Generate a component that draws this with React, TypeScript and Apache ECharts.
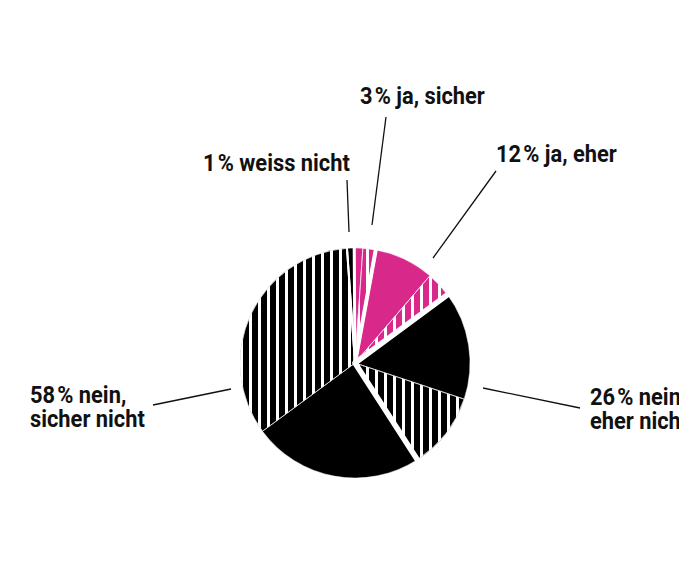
import React, { useEffect, useRef } from "react";
import * as echarts from "echarts";

// ---- data ----
const categories = ["weiss nicht", "ja, sicher", "ja, eher", "nein, eher nicht", "nein, sicher nicht"];
const labelNames = ["weiss nicht", "ja, sicher", "ja, eher", "nein,\neher nicht", "nein,\nsicher nicht"];
const totals = [1, 3, 12, 26, 58];
const solidShare = [1, 1.2, 8.4, 15.2, 24];
const stripedShare = [0, 1.8, 3.6, 10.8, 34];

// ---- styles / layout ----
const groupColors = ["#000000", "#d8288a", "#d8288a", "#000000", "#000000"];
const gapWidths = [2, 3, 4, 5.5, 2];
const labelPos: [number, number][] = [
  [203, 151],
  [360, 84],
  [496, 142],
  [590, 385],
  [30, 383],
];
const leaderLines: [number, number, number, number][] = [
  [349, 232, 347, 180],
  [372, 225, 386, 117],
  [433, 258, 496, 171],
  [483, 388, 580, 408],
  [231, 389, 153, 405],
];
const textScaleX = 0.91;

const stripeDecal = {
  symbol: "rect",
  symbolSize: 1,
  color: "#ffffff",
  backgroundColor: "rgba(0,0,0,0)",
  dashArrayX: [1, 0],
  dashArrayY: [2.6, 5.6],
  rotation: Math.PI / 2,
};

export default function App() {
  const ref = useRef<HTMLDivElement>(null);
  useEffect(() => {
    if (!ref.current) return;
    const chart = echarts.init(ref.current, undefined, { renderer: "svg" });

    const baseData: any[] = [];
    categories.forEach((c, i) => {
      baseData.push({
        name: c + " A",
        value: solidShare[i],
        itemStyle: { color: groupColors[i] },
      });
      if (stripedShare[i] > 0) {
        baseData.push({
          name: c + " B",
          value: stripedShare[i],
          itemStyle: { color: groupColors[i], decal: stripeDecal },
        });
      }
    });

    const overlayData = categories.map((c, i) => ({
      name: c,
      value: totals[i],
      itemStyle: { borderWidth: gapWidths[i] },
    }));

    const graphics: any[] = [];
    categories.forEach((c, i) => {
      graphics.push({
        type: "text",
        x: labelPos[i][0],
        y: labelPos[i][1],
        scaleX: textScaleX,
        silent: true,
        style: {
          x: 0,
          y: 0,
          text: `${totals[i]}\u200A% ${labelNames[i]}`,
          fontFamily: "Roboto, sans-serif",
          fontWeight: "bold",
          fontSize: 24,
          lineHeight: 24,
          fill: "#111111",
          verticalAlign: "top",
          align: "left",
        },
      });
      const l = leaderLines[i];
      graphics.push({
        type: "line",
        silent: true,
        shape: { x1: l[0], y1: l[1], x2: l[2], y2: l[3] },
        style: { stroke: "#111111", lineWidth: 1.3 },
      });
    });

    chart.setOption({
      animation: false,
      backgroundColor: "#ffffff",
      series: [
        {
          type: "pie",
          center: [355, 363],
          radius: 115,
          startAngle: 94,
          clockwise: true,
          silent: true,
          avoidLabelOverlap: false,
          label: { show: false },
          labelLine: { show: false },
          itemStyle: { borderColor: "rgba(255,255,255,0.6)", borderWidth: 0.8 },
          data: baseData,
        },
        {
          type: "pie",
          center: [355, 363],
          radius: 125,
          startAngle: 94,
          clockwise: true,
          silent: true,
          avoidLabelOverlap: false,
          label: { show: false },
          labelLine: { show: false },
          itemStyle: { color: "rgba(0,0,0,0)", borderColor: "#ffffff" },
          data: overlayData,
        },
      ],
      graphic: graphics,
    });
    return () => chart.dispose();
  }, []);
  return (
    <div
      ref={ref}
      style={{ position: "absolute", left: 0, top: 0, width: 679, height: 588 }}
    />
  );
}
